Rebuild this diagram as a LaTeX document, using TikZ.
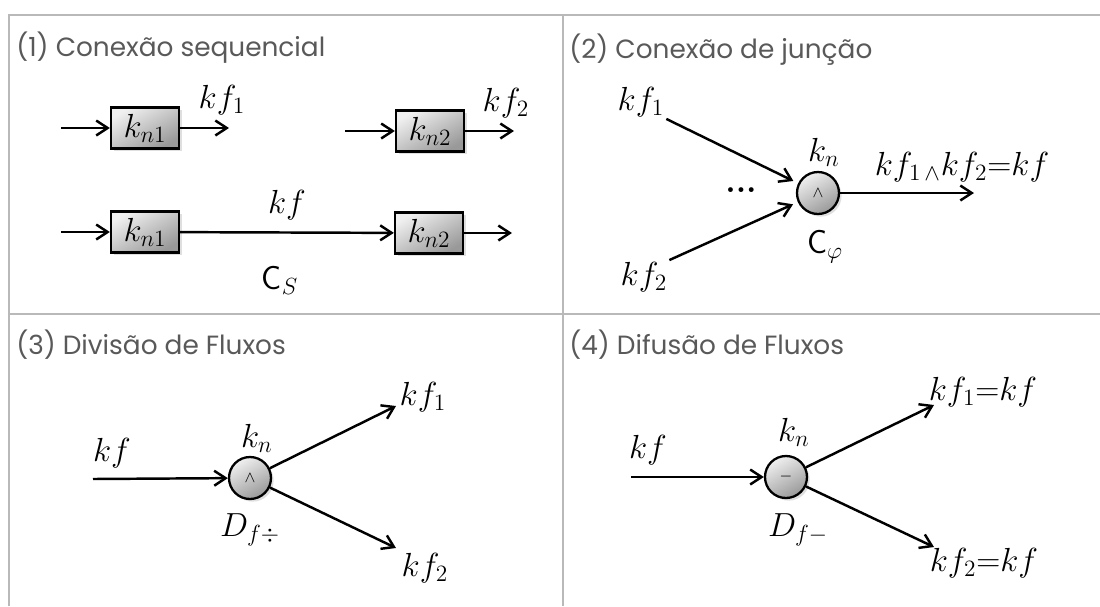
\RequirePackage{fix-cm}
\documentclass[tikz,border=0pt]{standalone}
\usepackage{amsmath,amssymb}
\usepackage{fontspec}
\newfontfamily\titlefont{Poppins}
\usetikzlibrary{arrows.meta,positioning,shadows}

\begin{document}
\begin{tikzpicture}[
    x=0.02cm, y=-0.02cm,
    lbl/.style={font=\fontsize{19}{22}\selectfont, inner sep=1pt},
    blk/.style={rectangle, draw, line width=1.3pt, minimum width=1.36cm, minimum height=0.82cm, inner sep=0pt,
        font=\fontsize{19}{22}\selectfont, top color=gray!12, bottom color=gray!80, shading angle=30,
        drop shadow={opacity=0.25, shadow xshift=1.5pt, shadow yshift=-1.5pt}},
    op/.style={circle, draw, line width=1.3pt, minimum size=0.84cm, inner sep=0pt,
        font=\fontsize{9}{9}\selectfont, top color=gray!12, bottom color=gray!80, shading angle=30,
        drop shadow={opacity=0.25, shadow xshift=1.5pt, shadow yshift=-1.5pt}},
    flow/.style={-{Straight Barb[length=6.5pt,width=8.5pt]}, line width=1.4pt},
    title/.style={anchor=west, inner sep=0pt, font=\titlefont\fontsize{15}{18}\selectfont, text=gray!70!black},
    grid/.style={draw=gray!55, line width=0.9pt}
]
\fill[white] (0,0) rectangle (1100,606);
\useasboundingbox (0,0) rectangle (1100,606);

% Panel borders
\draw[grid] (1100,15) -- (9,15) -- (9,606);
\draw[grid] (563,15) -- (563,606);
\draw[grid] (9,314) -- (1100,314);

% Titles
\node[title] (t1) at (16,48) {(1) Conexão sequencial};
\node[title] (t2) at (569,50) {(2) Conexão de junção};
\node[title] (t3) at (16,345) {(3) Divisão de Fluxos};
\node[title] (t4) at (569,345) {(4) Difusão de Fluxos};

% (1) Sequential connection
\node[blk] (a1) at (145,128) {$k_{n1}$};
\coordinate (a1in) at (61,128);
\coordinate (a1out) at (229,128);
\node[lbl] (kfa) at (222,100) {$kf_1$};

\node[blk] (b1) at (430,131) {$k_{n2}$};
\coordinate (b1in) at (345,131);
\coordinate (b1out) at (514,131);
\node[lbl] (kfb) at (506,103) {$kf_2$};

\node[blk] (a2) at (145,232) {$k_{n1}$};
\node[blk] (b2) at (429,233) {$k_{n2}$};
\coordinate (a2in) at (61,232);
\coordinate (b2out) at (512,233);
\node[lbl] (kfs) at (287,205) {$kf$};
\node[lbl] (cs) at (280,280) {$\mathsf{C}_S$};

\draw[flow] (a1in) -- (a1);
\draw[flow] (a1) -- (a1out);
\draw[flow] (b1in) -- (b1);
\draw[flow] (b1) -- (b1out);
\draw[flow] (a2in) -- (a2);
\draw[flow] (a2) -- (b2);
\draw[flow] (b2) -- (b2out);

% (2) Junction
\node[op] (c2) at (818,193) {$\wedge$};
\node[lbl] (kn2) at (824,152) {$k_n$};
\node[lbl] (cphi) at (825,247) {$\mathsf{C}_\varphi$};
\node[lbl] (jkf1) at (641,102) {$kf_1$};
\node[lbl] (jkf2) at (644,277) {$kf_2$};
\node[lbl] (dots) at (741,190) {\textbf{...}};
\coordinate (c2out) at (974,193);
\node[lbl] (jkf) at (962,167) {$kf_{1\,\wedge}kf_2{=}kf$};

\draw[flow, shorten >=3pt] (jkf1.south east) -- (c2);
\draw[flow, shorten >=3pt] (jkf2.north east) -- (c2);
\draw[flow] (c2) -- (c2out);

% (3) Division of flows
\node[op] (c3) at (250,478) {$\wedge$};
\node[lbl] (kn3) at (257,438) {$k_n$};
\node[lbl] (d3) at (250,530) {$D_{f\div}$};
\node[lbl] (dkf) at (112,453) {$kf$};
\node[lbl] (dkf1) at (423,397) {$kf_1$};
\node[lbl] (dkf2) at (425,568) {$kf_2$};
\coordinate (c3in) at (93,479);
\coordinate (c3up) at (396,406);
\coordinate (c3dn) at (396,548);

\draw[flow] (c3in) -- (c3);
\draw[flow] (c3) -- (c3up);
\draw[flow] (c3) -- (c3dn);

% (4) Diffusion of flows
\node[op] (c4) at (786,477) {$-$};
\node[lbl] (kn4) at (794,432) {$k_n$};
\node[lbl] (d4) at (798,530) {$D_{f-}$};
\node[lbl] (fkf) at (648,450) {$kf$};
\node[lbl] (fkf1) at (983,392) {$kf_1{=}kf$};
\node[lbl] (fkf2) at (984,563) {$kf_2{=}kf$};
\coordinate (c4in) at (631,477);
\coordinate (c4up) at (934,405);
\coordinate (c4dn) at (934,547);

\draw[flow] (c4in) -- (c4);
\draw[flow] (c4) -- (c4up);
\draw[flow] (c4) -- (c4dn);

\end{tikzpicture}
\end{document}
